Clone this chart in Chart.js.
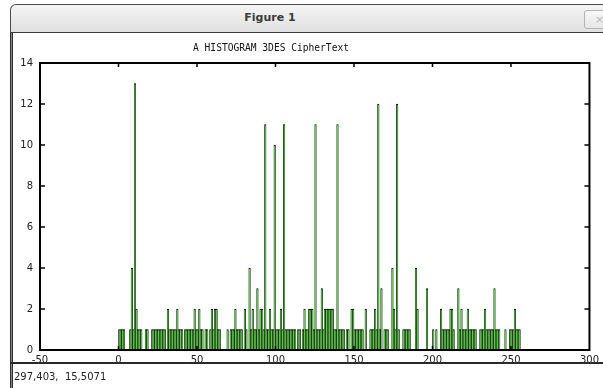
<!DOCTYPE html>
<html>
<head>
<meta charset="utf-8">
<script src="https://cdn.jsdelivr.net/npm/chart.js@4/dist/chart.umd.min.js"></script>
<style>
  html, body { margin: 0; padding: 0; background: #fff; }
  body { width: 603px; height: 388px; position: relative; overflow: hidden; font-family: "DejaVu Sans", sans-serif; }
  #titlebar {
    position: absolute; left: 10px; top: 4px; width: 640px; height: 27px;
    background: linear-gradient(#f4f4f4, #e0e0e0);
    border: 1px solid #4a4a4a; border-bottom: 1px solid #3a3a3a;
    border-radius: 6px 6px 0 0;
  }
  #wintitle {
    position: absolute; left: 270px; top: 11px; transform: translateX(-50%);
    font: bold 11px "DejaVu Sans", sans-serif; color: #3b3b3b; white-space: nowrap;
  }
  #closebtn {
    position: absolute; left: 584px; top: 10px; width: 26px; height: 19px;
    border: 1px solid #b4b4b4; border-radius: 3px;
    background: linear-gradient(#f8f8f8, #e6e6e6);
    color: #b8b8b8; font: 11px "DejaVu Sans", sans-serif; line-height: 18px; padding-left: 10px; box-sizing: border-box;
  }
  #leftframe { position: absolute; left: 10px; top: 33px; width: 3px; height: 360px; background: #2e2e2e; }
  #leftframe::after { content: ""; position: absolute; left: 1px; top: 0; width: 1px; height: 100%; background: #8a8a8a; }
  #bottomline { position: absolute; left: 10px; top: 362px; width: 600px; height: 2px; background: #2a2a2a; }
  #status {
    position: absolute; left: 14px; top: 371px;
    font: 10px "DejaVu Sans", sans-serif; color: #222; white-space: pre;
  }
  #plottitle {
    position: absolute; left: 271px; top: 42px; transform: translateX(-50%);
    font: 9.6px "DejaVu Sans Mono", monospace; color: #111; white-space: nowrap;
  }
  #chartbox { position: absolute; left: 11px; top: 33px; width: 592px; height: 330px; }
</style>
</head>
<body>
<div id="titlebar"></div>
<div id="wintitle">Figure 1</div>
<div id="closebtn">×</div>
<div id="chartbox"><canvas id="c" width="592" height="330"></canvas></div>
<div id="leftframe"></div>
<div id="bottomline"></div>
<div id="plottitle">A HISTOGRAM 3DES CipherText</div>
<div id="status">297,403,  15,5071</div>
<script>
// Byte values 0..255 and how often each one occurs in the ciphertext
const byteCounts = [
  1, 1, 1, 1, 0, 0, 0, 1, 4, 1, 13, 2, 1, 1, 1, 0,          // 0-15
  0, 1, 1, 0, 0, 1, 1, 1, 1, 1, 1, 1, 1, 1, 0, 2,           // 16-31
  1, 1, 1, 1, 1, 2, 1, 1, 1, 0, 1, 1, 1, 1, 1, 1,           // 32-47
  2, 1, 1, 2, 1, 1, 0, 1, 1, 0, 1, 2, 1, 2, 2, 1,           // 48-63
  1, 0, 0, 0, 0, 1, 0, 1, 1, 1, 2, 1, 1, 1, 1, 0,           // 64-79
  2, 1, 0, 4, 1, 2, 1, 1, 3, 1, 2, 2, 1, 11, 1, 1,          // 80-95
  2, 1, 1, 10, 1, 1, 1, 2, 1, 11, 1, 1, 1, 1, 1, 1,         // 96-111
  1, 0, 1, 1, 0, 1, 2, 1, 1, 2, 2, 2, 1, 11, 1, 1,          // 112-127
  1, 3, 1, 2, 2, 2, 2, 2, 2, 1, 1, 11, 1, 1, 1, 1,          // 128-143
  0, 1, 1, 0, 2, 2, 1, 1, 1, 1, 1, 1, 0, 2, 0, 0,           // 144-159
  1, 1, 1, 2, 1, 12, 1, 3, 0, 1, 1, 1, 0, 0, 4, 2,          // 160-175
  1, 12, 1, 0, 0, 1, 1, 1, 1, 1, 0, 0, 0, 4, 2, 0,          // 176-191
  0, 0, 0, 0, 3, 0, 0, 0, 1, 0, 1, 0, 0, 2, 1, 1,           // 192-207
  1, 1, 1, 2, 2, 1, 0, 0, 3, 1, 2, 1, 1, 1, 2, 1,           // 208-223
  1, 1, 1, 1, 0, 0, 1, 1, 1, 2, 1, 1, 1, 1, 1, 3,           // 224-239
  1, 1, 1, 0, 0, 0, 1, 0, 0, 1, 1, 1, 2, 1, 1, 1            // 240-255
];
const xTicks = [-50, 0, 50, 100, 150, 200, 250, 300];
const yTicks = [0, 2, 4, 6, 8, 10, 12, 14];

// one bar per byte value, centred in its unit-wide bin
const barPoints = byteCounts
  .map((count, value) => ({ x: value + 0.5, y: count }))
  .filter(p => p.y > 0);

// black frame round the plot with inward tick marks on all four sides
const framePlugin = {
  id: 'frame',
  afterDatasetsDraw(chart) {
    const { ctx, chartArea: a, scales } = chart;
    ctx.save();
    ctx.strokeStyle = '#000';
    ctx.lineWidth = 2;
    ctx.strokeRect(a.left, a.top, a.right - a.left, a.bottom - a.top);
    ctx.lineWidth = 1.5;
    ctx.beginPath();
    xTicks.slice(1, -1).forEach(v => {
      const px = scales.x.getPixelForValue(v);
      ctx.moveTo(px, a.top); ctx.lineTo(px, a.top + 4);
      ctx.moveTo(px, a.bottom); ctx.lineTo(px, a.bottom - 4);
    });
    yTicks.slice(1, -1).forEach(v => {
      const py = scales.y.getPixelForValue(v);
      ctx.moveTo(a.left, py); ctx.lineTo(a.left + 5, py);
      ctx.moveTo(a.right, py); ctx.lineTo(a.right - 5, py);
    });
    ctx.stroke();
    ctx.restore();
  }
};

const tickFont = { family: 'DejaVu Sans', size: 10 };

new Chart(document.getElementById('c'), {
  type: 'bar',
  data: {
    datasets: [{
      data: barPoints,
      backgroundColor: '#5ccf47',
      borderColor: '#000',
      borderWidth: { top: 1, left: 0.6, right: 0.6, bottom: 0 },
      borderSkipped: 'bottom',
      barPercentage: 1,
      categoryPercentage: 1
    }]
  },
  options: {
    responsive: false,
    animation: false,
    devicePixelRatio: 1,
    layout: { padding: { top: 30, right: 10, left: 0, bottom: 0 } },
    plugins: { legend: { display: false }, tooltip: { enabled: false }, title: { display: false } },
    scales: {
      x: {
        type: 'linear', min: -50, max: 300, offset: false,
        grid: { display: false, drawTicks: false, offset: false },
        border: { display: false },
        afterBuildTicks: s => { s.ticks = xTicks.map(v => ({ value: v })); },
        afterFit: s => { s.height = 13; },
        ticks: { font: tickFont, color: '#222', padding: 4, maxRotation: 0, autoSkip: false }
      },
      y: {
        min: 0, max: 14,
        grid: { display: false, drawTicks: false },
        border: { display: false },
        afterBuildTicks: s => { s.ticks = yTicks.map(v => ({ value: v })); },
        afterFit: s => { s.width = 29; },
        ticks: { font: tickFont, color: '#222', padding: 7 }
      }
    }
  },
  plugins: [framePlugin]
});
</script>
</body>
</html>
